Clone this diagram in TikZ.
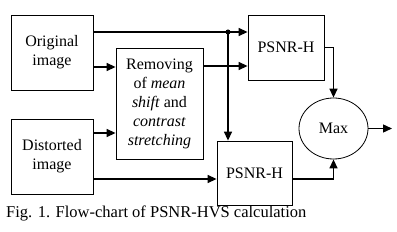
\documentclass[tikz,border=0pt]{standalone}
\usepackage{fontspec}
\setmainfont{Liberation Serif}
\usetikzlibrary{arrows.meta,shapes.geometric,calc}
\begin{document}
\begin{tikzpicture}[x=1pt,y=-1pt,
  box/.style={draw,line width=0.8pt,inner sep=0pt,align=center,font=\fontsize{16}{19}\selectfont},
  conn/.style={line width=1.4pt},
  arr/.style={conn,-{Triangle[length=9pt,width=8pt]}}]
\useasboundingbox (0,0) rectangle (397,232);
\node[box,minimum width=82pt,minimum height=75pt] (orig) at (52,52.5) {Original\\image};
\node[box,minimum width=87pt,minimum height=111pt] (rem) at (159.5,103.5) {Removing\\of \textit{mean}\\\textit{shift} and\\\textit{contrast}\\\textit{stretching}};
\node[box,minimum width=82pt,minimum height=75pt] (dist) at (52,156.5) {Distorted\\image};
\node[box,minimum width=76pt,minimum height=65pt] (p1) at (286,47.5) {PSNR-H};
\node[box,minimum width=75pt,minimum height=64pt] (p2) at (254.5,173) {PSNR-H};
\node[box,ellipse,minimum width=69pt,minimum height=61pt] (max) at (333.5,128.5) {Max};
\node[anchor=west,inner sep=0pt,font=\fontsize{16.5}{19}\selectfont] (cap) at (6,213) {Fig. 1. Flow-chart of PSNR-HVS calculation};
\coordinate (dot) at (228,32);
\coordinate (ya) at (0,67);
\coordinate (yb) at (0,66);
\coordinate (yc) at (0,133);
\coordinate (yd) at (0,179);
\coordinate (out) at (392,128.5);
\draw[arr] (orig.east |- dot) -- (p1.west |- dot);
\fill (dot) circle (2.5pt);
\draw[arr] (dot) -- (dot |- p2.north);
\draw[arr] (orig.east |- ya) -- (rem.west |- ya);
\draw[arr] (rem.east |- yb) -- (p1.west |- yb);
\draw[arr] (dist.east |- yc) -- (rem.west |- yc);
\draw[arr] (dist.east |- yd) -- (p2.west |- yd);
\draw[arr] (p1.east) -| (max.north);
\draw[arr] (p2.east |- yd) -| (max.south);
\draw[arr] (max.east) -- (out);
\end{tikzpicture}
\end{document}
